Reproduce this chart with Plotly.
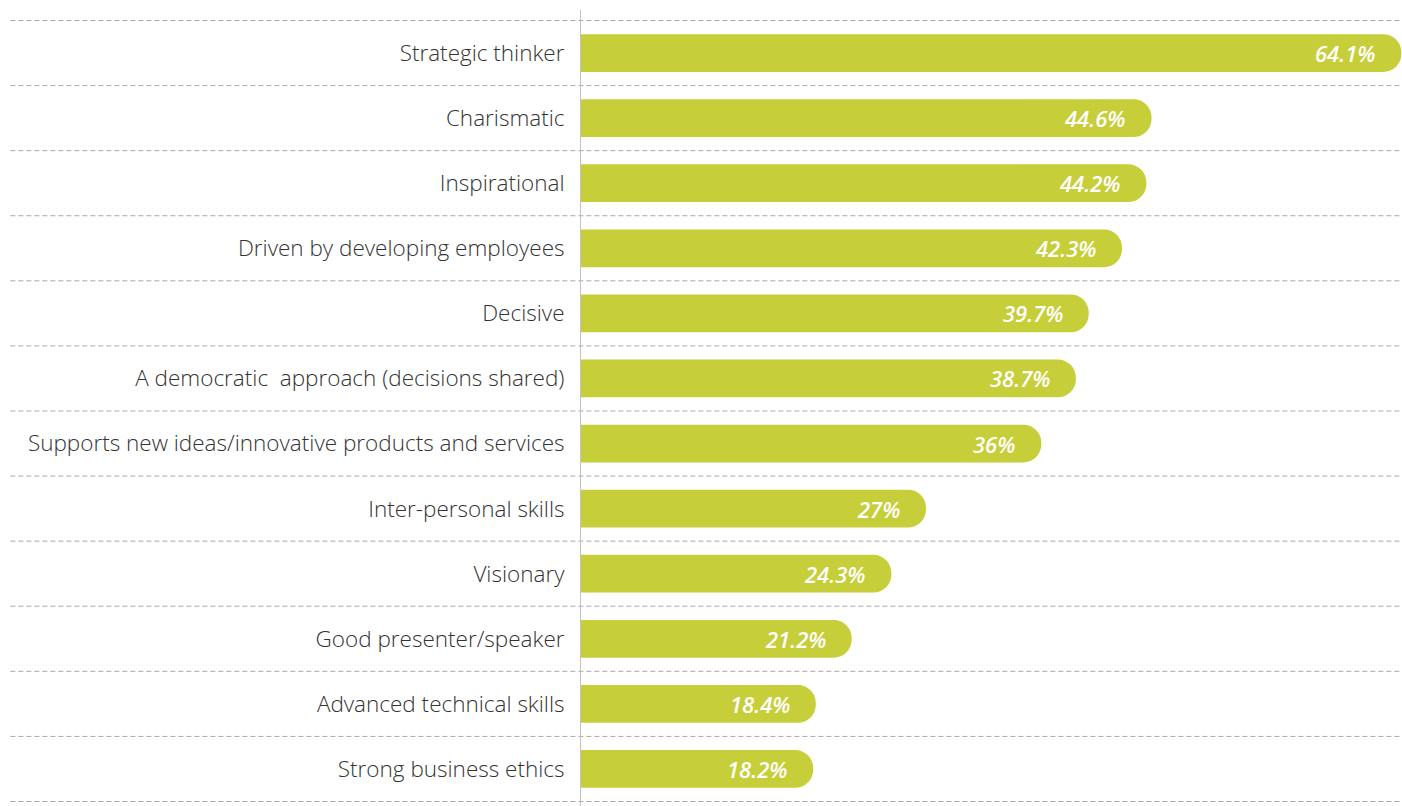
import plotly.graph_objects as go

# Leadership qualities and share of respondents (%)
categories = [
    "Strategic thinker",
    "Charismatic",
    "Inspirational",
    "Driven by developing employees",
    "Decisive",
    "A democratic  approach (decisions shared)",
    "Supports new ideas/innovative products and services",
    "Inter-personal skills",
    "Visionary",
    "Good presenter/speaker",
    "Advanced technical skills",
    "Strong business ethics",
]
values = [64.1, 44.6, 44.2, 42.3, 39.7, 38.7, 36, 27, 24.3, 21.2, 18.4, 18.2]

BAR_COLOR = "#c6ce3a"
GRID_COLOR = "#a8a8a8"

fig = go.Figure(
    go.Bar(
        x=values,
        y=categories,
        orientation="h",
        width=0.58,
        marker=dict(color=BAR_COLOR, line=dict(width=0), cornerradius=19),
        hoverinfo="skip",
    )
)

# value labels inside the bar ends
for cat, v in zip(categories, values):
    fig.add_annotation(
        x=v, y=cat, xref="x", yref="y",
        text=f"{v:g}%",
        showarrow=False,
        xanchor="right", yanchor="middle",
        xshift=-24,
        font=dict(family="Open Sans", size=22, color="white", weight=600, style="italic"),
    )

# dashed separators between rows
for i in range(len(categories) + 1):
    fig.add_shape(
        type="line", xref="paper", yref="y",
        x0=-0.693, x1=1.0, y0=i - 0.5, y1=i - 0.5,
        line=dict(color=GRID_COLOR, width=1, dash="5px,3px"),
        layer="below",
    )

# vertical baseline
fig.add_shape(
    type="line", xref="x", yref="paper",
    x0=0, x1=0, y0=-0.006, y1=1.013,
    line=dict(color="#c2c2c2", width=2),
    layer="above",
)

fig.update_layout(
    width=1402, height=806,
    margin=dict(l=580, r=0, t=20, b=4),
    paper_bgcolor="white", plot_bgcolor="white",
    showlegend=False,
    xaxis=dict(range=[0, 64.15], visible=False, fixedrange=True),
    yaxis=dict(
        autorange="reversed",
        showgrid=False, zeroline=False, showline=False,
        ticks="outside", ticklen=10, tickcolor="rgba(0,0,0,0)",
        tickfont=dict(family="Open Sans", size=22.5, color="#333333", weight=300),
        fixedrange=True,
    ),
)

fig.write_html("out.html")
